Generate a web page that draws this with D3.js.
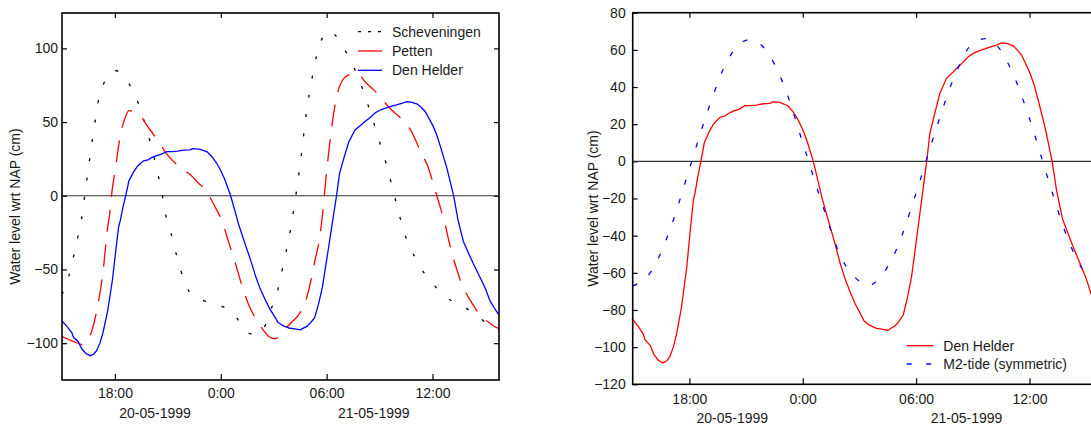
<!DOCTYPE html>
<html>
<head>
<meta charset="utf-8">
<script src="https://cdn.jsdelivr.net/npm/d3@7"></script>
<style>
  body { margin: 0; background: #fff; overflow: hidden; }
  svg { display: block; font-family: "Liberation Sans", Arial, sans-serif; }
  .axis text { font-size: 14px; fill: #1a1a1a; }
  .axis line { stroke: #000; stroke-width: 1.2; }
  .axis path { display: none; }
</style>
</head>
<body>
<div id="chart"></div>
<script>
// hours after 20-05-1999 15:00, water level in cm
const scheveningen = [
  [0, -67], [0.36, -55.7], [0.64, -42], [0.89, -28.4], [1.11, -15.5], [1.25, -3],
  [1.4, 10], [1.55, 23.4], [1.7, 36.3], [1.87, 50], [2.04, 63], [2.34, 75.3],
  [2.7, 83], [3.0, 85], [3.3, 83.5], [3.75, 77], [4.22, 66], [4.6, 53], [4.92, 40],
  [5.45, 14], [5.67, 1.6], [5.86, -12], [6.17, -25], [6.43, -37.5], [6.73, -50.5],
  [7.11, -63], [7.5, -68.5], [7.88, -70.5], [8.4, -72.5], [8.94, -74.5], [9.4, -77],
  [9.84, -82], [10.2, -88], [10.45, -92.5], [10.9, -94], [11.3, -92.5], [11.55, -87],
  [11.76, -79.5], [12.14, -68], [12.39, -55.7], [12.61, -42.7], [12.86, -29],
  [13.05, -16], [13.22, -2.5], [13.37, 10], [13.52, 23.4], [13.65, 36.3],
  [13.78, 49.5], [13.93, 62.4], [14.12, 76], [14.31, 88.5], [14.59, 102],
  [14.85, 109], [15.1, 111.7], [15.4, 110], [15.88, 102], [16.39, 90.8],
  [16.86, 78.3], [17.23, 65.8], [17.57, 53.3], [17.89, 40.8], [18.21, 28.3],
  [18.51, 16], [18.78, 2.7], [19.06, -10], [19.34, -23], [19.78, -36],
  [20.25, -47.3], [20.91, -58], [21.66, -67.7], [22.55, -74.3], [23.45, -80.2],
  [23.9, -85], [24.3, -89], [24.77, -91]
];

const petten = [
  [0, -95.5], [0.64, -98.8], [1.2, -101], [1.4, -99], [1.68, -92], [2.0, -76],
  [2.34, -50], [2.56, -24], [2.71, -11.4], [2.85, 4.5], [3.0, 16], [3.32, 42],
  [3.55, 52], [3.79, 57.8], [4.1, 57], [4.41, 55], [4.8, 48], [5.16, 42],
  [5.67, 33], [6.1, 26], [6.58, 20.4], [7.28, 14.2], [7.7, 9], [8.18, 3.3],
  [8.65, -7], [9.03, -16], [9.46, -32], [9.88, -48], [10.2, -61], [10.54, -72.7],
  [11.01, -84], [11.4, -91], [11.76, -95.8], [12.1, -97], [12.52, -92], [13.0, -86],
  [13.46, -80], [13.84, -70.4], [14.16, -54.6], [14.31, -45.4], [14.59, -29.6],
  [14.78, -11], [14.93, 8], [15.16, 34], [15.44, 59], [15.72, 73.8], [16.0, 80],
  [16.4, 82.5], [16.76, 82.8], [17.2, 77], [17.7, 71.5], [18.27, 63.5], [18.7, 58],
  [19.21, 52.6], [19.78, 44.2], [20.35, 29.5], [20.72, 20.4], [21.19, 2.2],
  [21.42, -6.9], [21.76, -21.6], [21.95, -31.8], [22.32, -47.8], [22.6, -58],
  [23.23, -72.7], [23.77, -81.8], [24.2, -86], [24.68, -89.7], [24.77, -90]
];

const denHelder = [
  [0, -85], [0.3, -89], [0.56, -93], [0.65, -96], [0.92, -99], [1.13, -104],
  [1.35, -107], [1.59, -108.5], [1.8, -107.5], [1.97, -105], [2.15, -100],
  [2.33, -92.6], [2.59, -78], [2.86, -57], [3.03, -39], [3.21, -21], [3.3, -17],
  [3.45, -8], [3.61, 0], [3.79, 10], [4.05, 16], [4.3, 20.4], [4.62, 23.7],
  [4.88, 24.4], [5.1, 26], [5.32, 27], [5.6, 28], [5.94, 30], [6.25, 30],
  [6.56, 30.3], [6.9, 31], [7.26, 31.2], [7.4, 32], [7.79, 31.7], [8.23, 29.8],
  [8.5, 26.5], [8.76, 22.2], [9.0, 17], [9.21, 11.5], [9.56, 0], [9.91, -15],
  [10.0, -19], [10.35, -31.6], [10.7, -44], [10.97, -54.5], [11.23, -63],
  [11.5, -70], [11.76, -76.4], [12.0, -81], [12.24, -85.8], [12.5, -88],
  [12.91, -89.9], [13.2, -90.3], [13.52, -91], [13.65, -90], [13.88, -88.6],
  [14.1, -86], [14.32, -82.7], [14.55, -73], [14.76, -62], [15.06, -39],
  [15.29, -21], [15.56, 0], [15.73, 15], [15.99, 26], [16.26, 36.6], [16.61, 44.7],
  [16.9, 47.5], [17.14, 50], [17.45, 53], [17.76, 56.3], [18.1, 58.5],
  [18.55, 60.3], [18.9, 61.5], [19.26, 62.6], [19.52, 63.8], [19.79, 63.5],
  [20.14, 62.2], [20.35, 60], [20.58, 57.2], [20.8, 52.5], [21.03, 47.4],
  [21.25, 41], [21.46, 33], [21.82, 18.6], [22.2, 0], [22.44, -16], [22.75, -31],
  [22.97, -37], [23.31, -46], [23.76, -57], [24.0, -63], [24.25, -71],
  [24.5, -76], [24.75, -80.6]
];

const m2Tide = [
  [0, -67], [1, -59], [2, -36], [3, -4], [4, 28], [5, 54], [5.5, 61.5], [6.2, 65.5],
  [7, 60.5], [8, 41], [9, 10], [10, -22], [11, -51], [12, -64.5], [12.47, -67],
  [13, -63.5], [14, -46.5], [15, -17], [16, 15.5], [17, 45], [18, 63.5],
  [18.7, 66], [19, 65], [20, 50], [21, 23], [22, -10], [23, -41], [24, -61],
  [24.77, -67]
];

const startTime = new Date(1999, 4, 20, 15, 0);
const spanHours = 24.77;
const xTickHours = [3, 9, 15, 21];
const xTickLabels = ["18:00", "0:00", "06:00", "12:00"];
const dateLabels = ["20-05-1999", "21-05-1999"];
const dateLabelHours = [5.27, 17.67];
const leftYTicks = [-100, -50, 0, 50, 100];
const rightYTicks = [-120, -100, -80, -60, -40, -20, 0, 20, 40, 60, 80];
const yLabel = "Water level wrt NAP (cm)";

const toDate = h => new Date(startTime.getTime() + h * 3600e3);

const svg = d3.select("#chart").append("svg")
  .attr("width", 1091)
  .attr("height", 425);

function drawPanel(opt) {
  const g = svg.append("g").attr("transform", `translate(${opt.left},${opt.top})`);

  const x = d3.scaleTime().domain([startTime, toDate(spanHours)]).range([0, opt.width]);
  const y = d3.scaleLinear().domain(opt.yDomain).range([opt.height, 0]);

  const clipId = "clip-" + opt.id;
  g.append("clipPath").attr("id", clipId)
    .append("rect").attr("width", opt.width).attr("height", opt.height);

  const xTicks = xTickHours.map(toDate);

  // frame ticks, all pointing inwards
  g.append("g").attr("class", "axis")
    .attr("transform", `translate(0,${opt.height})`)
    .call(d3.axisBottom(x).tickValues(xTicks).tickSize(-6).tickPadding(opt.xPad)
      .tickFormat((d, i) => xTickLabels[i]));

  g.append("g").attr("class", "axis")
    .call(d3.axisTop(x).tickValues(xTicks).tickSize(-5).tickFormat(""));

  g.append("g").attr("class", "axis")
    .call(d3.axisLeft(y).tickValues(opt.yTicks).tickSize(-5).tickPadding(opt.yPad)
      .tickFormat(d3.format("d")));

  g.append("g").attr("class", "axis")
    .attr("transform", `translate(${opt.width},0)`)
    .call(d3.axisRight(y).tickValues(opt.yTicks).tickSize(-5).tickFormat(""));

  g.selectAll(".date-label")
    .data(dateLabels)
    .join("text")
    .attr("class", "date-label")
    .attr("x", (d, i) => x(toDate(dateLabelHours[i])))
    .attr("y", opt.height + opt.dateDy)
    .attr("text-anchor", "middle")
    .style("font-size", "14px")
    .style("fill", "#1a1a1a")
    .text(d => d);

  g.append("text")
    .attr("transform", `translate(${opt.labelX},${opt.height / 2 + 10}) rotate(-90)`)
    .attr("text-anchor", "middle")
    .style("font-size", "14px")
    .style("fill", "#1a1a1a")
    .text(yLabel);

  const plot = g.append("g").attr("clip-path", `url(#${clipId})`);

  plot.append("line")
    .attr("x1", 0).attr("x2", opt.width)
    .attr("y1", y(0)).attr("y2", y(0))
    .style("stroke", "#333")
    .style("stroke-width", 1.2);

  opt.series.forEach(s => {
    const line = d3.line()
      .x(d => x(toDate(d[0])))
      .y(d => y(d[1]))
      .curve(s.smooth ? d3.curveMonotoneX : d3.curveLinear);
    plot.append("path")
      .datum(s.data)
      .style("fill", "none")
      .style("stroke", s.color)
      .style("stroke-width", 1.3)
      .style("stroke-dasharray", s.dash || null)
      .attr("d", line);
  });

  // frame
  g.append("rect")
    .attr("width", opt.width).attr("height", opt.height)
    .style("fill", "none")
    .style("stroke", "#000")
    .style("stroke-width", 1.6);

  const leg = g.append("g").attr("transform", `translate(${opt.legend.x},${opt.legend.y})`);
  opt.series.forEach((s, i) => {
    const row = leg.append("g").attr("transform", `translate(0,${i * opt.legend.step})`);
    row.append("line")
      .attr("x1", 0).attr("x2", opt.legend.len)
      .style("stroke", s.color)
      .style("stroke-width", 1.3)
      .style("stroke-dasharray", s.legendDash || null);
    row.append("text")
      .attr("x", opt.legend.len + opt.legend.gap)
      .attr("dy", "0.35em")
      .style("font-size", "14px")
      .style("fill", "#1a1a1a")
      .text(s.name);
  });
}

drawPanel({
  id: "left", left: 62, top: 13, width: 437, height: 367,
  yDomain: [-125, 124], yTicks: leftYTicks, yPad: 4, xPad: 8, dateDy: 38, labelX: -42,
  series: [
    {name: "Scheveningen", data: scheveningen, color: "#000", dash: "3,16.5", legendDash: "3,7", smooth: true},
    {name: "Petten", data: petten, color: "#ff0000", dash: "22,13", smooth: true},
    {name: "Den Helder", data: denHelder, color: "#0000ff"}
  ],
  legend: {x: 296, y: 18.7, step: 19.3, len: 24, gap: 10}
});

drawPanel({
  id: "right", left: 632.7, top: 12.7, width: 468, height: 371.6,
  yDomain: [-120, 80], yTicks: rightYTicks, yPad: 7, xPad: 9.7, dateDy: 39, labelX: -35,
  series: [
    {name: "Den Helder", data: denHelder, color: "#ff0000"},
    {name: "M2-tide (symmetric)", data: m2Tide, color: "#0000ff", dash: "5,14.5", legendDash: "5,14.5", smooth: true}
  ],
  legend: {x: 274, y: 333, step: 18.3, len: 26.6, gap: 10}
});
</script>
</body>
</html>
